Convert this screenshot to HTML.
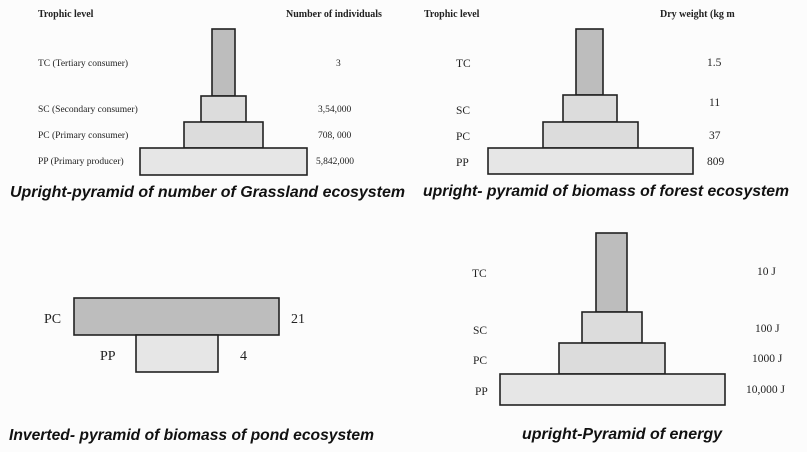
<!DOCTYPE html>
<html><head><meta charset="utf-8"><style>
body{margin:0;background:#fff}
svg{display:block}
.s{font-family:"Liberation Serif",serif;font-size:9.5px;fill:#222}
.m{font-family:"Liberation Serif",serif;font-size:11.5px;fill:#222}
.l{font-family:"Liberation Serif",serif;font-size:14px;fill:#222}
.b{font-family:"Liberation Serif",serif;font-size:10px;font-weight:bold;fill:#222}
.c{font-family:"Liberation Sans",sans-serif;font-size:15.5px;font-weight:bold;font-style:italic;fill:#111}
rect{stroke:#222;stroke-width:1.6}
.d{fill:#bdbdbd}.g{fill:#dcdcdc}.p{fill:#e6e6e6}
</style></head><body>
<svg width="807" height="452" viewBox="0 0 807 452">
<rect x="0" y="0" width="807" height="452" style="fill:#fcfcfc;stroke:none"/>
<!-- top left -->
<text class="b" x="38" y="17">Trophic level</text>
<text class="b" x="286" y="17">Number of individuals</text>
<rect class="d" x="212" y="29" width="23" height="67"/>
<rect class="g" x="201" y="96" width="45" height="26"/>
<rect class="g" x="184" y="122" width="79" height="26"/>
<rect class="p" x="140" y="148" width="167" height="27"/>
<text class="s" x="38" y="66">TC (Tertiary consumer)</text>
<text class="s" x="38" y="112">SC (Secondary consumer)</text>
<text class="s" x="38" y="138">PC (Primary consumer)</text>
<text class="s" x="38" y="164">PP (Primary producer)</text>
<text class="s" x="336" y="66">3</text>
<text class="s" x="318" y="112">3,54,000</text>
<text class="s" x="318" y="138">708, 000</text>
<text class="s" x="316" y="164">5,842,000</text>
<text class="c" x="10" y="197" textLength="395" lengthAdjust="spacingAndGlyphs">Upright-pyramid of number  of Grassland ecosystem</text>
<!-- top right -->
<text class="b" x="424" y="17">Trophic level</text>
<text class="b" x="660" y="17">Dry weight (kg m</text>
<rect class="d" x="576" y="29" width="27" height="66"/>
<rect class="g" x="563" y="95" width="54" height="27"/>
<rect class="g" x="543" y="122" width="95" height="26"/>
<rect class="p" x="488" y="148" width="205" height="26"/>
<text class="m" x="456" y="67">TC</text>
<text class="m" x="456" y="114">SC</text>
<text class="m" x="456" y="140">PC</text>
<text class="m" x="456" y="166">PP</text>
<text class="m" x="707" y="66">1.5</text>
<text class="m" x="709" y="106">11</text>
<text class="m" x="709" y="139">37</text>
<text class="m" x="707" y="165">809</text>
<text class="c" x="423" y="196" textLength="366" lengthAdjust="spacingAndGlyphs">upright- pyramid of biomass of forest ecosystem</text>
<!-- bottom left -->
<rect class="d" x="74" y="298" width="205" height="37"/>
<rect class="p" x="136" y="335" width="82" height="37"/>
<text class="l" x="44" y="323">PC</text>
<text class="l" x="291" y="323">21</text>
<text class="l" x="100" y="360">PP</text>
<text class="l" x="240" y="360">4</text>
<text class="c" x="9" y="440" textLength="365" lengthAdjust="spacingAndGlyphs">Inverted- pyramid of biomass of pond ecosystem</text>
<!-- bottom right -->
<rect class="d" x="596" y="233" width="31" height="79"/>
<rect class="g" x="582" y="312" width="60" height="31"/>
<rect class="g" x="559" y="343" width="106" height="31"/>
<rect class="p" x="500" y="374" width="225" height="31"/>
<text class="m" x="472" y="277">TC</text>
<text class="m" x="473" y="334">SC</text>
<text class="m" x="473" y="364">PC</text>
<text class="m" x="475" y="395">PP</text>
<text class="m" x="757" y="275">10 J</text>
<text class="m" x="755" y="332">100 J</text>
<text class="m" x="752" y="362">1000 J</text>
<text class="m" x="746" y="393">10,000 J</text>
<text class="c" x="522" y="439" textLength="200" lengthAdjust="spacingAndGlyphs">upright-Pyramid of energy</text>
</svg>
</body></html>
